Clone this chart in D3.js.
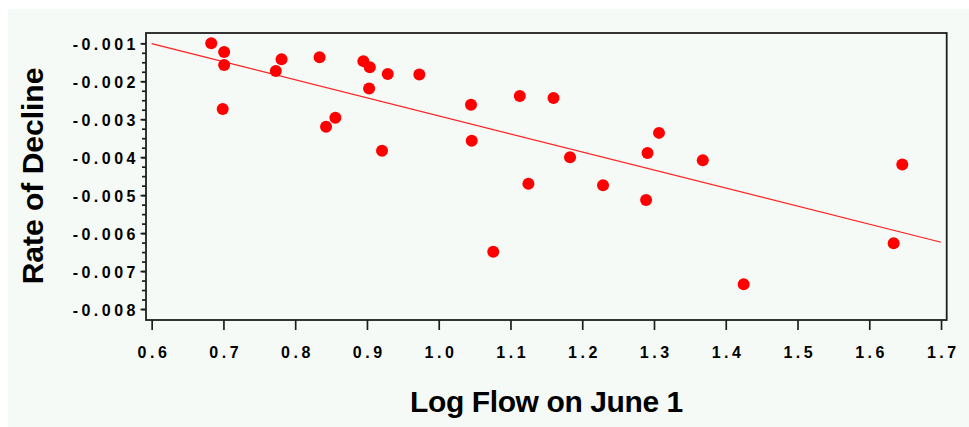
<!DOCTYPE html>
<html>
<head>
<meta charset="utf-8">
<script src="https://cdn.jsdelivr.net/npm/d3@7"></script>
<style>
  html, body { margin: 0; padding: 0; background: #ffffff; }
  svg { display: block; }
</style>
</head>
<body>
<svg id="chart" width="969" height="427"></svg>
<script>
// ---- data ----
const logFlow = [0.683, 0.701, 0.701, 0.699, 0.773, 0.781, 0.834, 0.843, 0.856, 0.895,
                 0.904, 0.903, 0.921, 0.929, 0.973, 1.045, 1.046, 1.076, 1.113, 1.125,
                 1.160, 1.183, 1.229, 1.289, 1.291, 1.307, 1.368, 1.425, 1.634, 1.646];
const rateOfDecline = [-0.00100, -0.00123, -0.00157, -0.00273, -0.00173, -0.00142, -0.00137, -0.00320, -0.00296, -0.00147,
                       -0.00163, -0.00219, -0.00383, -0.00181, -0.00182, -0.00262, -0.00357, -0.00649, -0.00239, -0.00470,
                       -0.00244, -0.00400, -0.00474, -0.00513, -0.00389, -0.00336, -0.00408, -0.00735, -0.00627, -0.00419];
const fitX = [0.6, 1.7];
const fitY = [-0.00101, -0.00624];
const xTicks = [0.6, 0.7, 0.8, 0.9, 1.0, 1.1, 1.2, 1.3, 1.4, 1.5, 1.6, 1.7];
const xTickLabels = ["0.6", "0.7", "0.8", "0.9", "1.0", "1.1", "1.2", "1.3", "1.4", "1.5", "1.6", "1.7"];
const yTicks = [-0.001, -0.002, -0.003, -0.004, -0.005, -0.006, -0.007, -0.008];
const yTickLabels = ["-0.001", "-0.002", "-0.003", "-0.004", "-0.005", "-0.006", "-0.007", "-0.008"];
const yMinorTicks = d3.range(0, 29).map(i => -0.008 + i * 0.00025);
const xTitle = "Log Flow on June 1";
const yTitle = "Rate of Decline";

// ---- layout ----
const plot = { left: 146, right: 946.7, top: 33, bottom: 320 };
const FONT = "'Liberation Sans', Arial, Helvetica, sans-serif";
const LS = 3.5; // tick-label letter spacing

const svg = d3.select("#chart");

svg.append("rect")
  .attr("x", 8).attr("y", 9).attr("width", 961).attr("height", 418)
  .attr("fill", "#f6faf6");

const x = d3.scaleLinear().domain([0.5921, 1.7079]).range([plot.left, plot.right]);
const y = d3.scaleLinear().domain([-0.008289, -0.000729]).range([plot.bottom, plot.top]);

// frame
svg.append("rect")
  .attr("x", plot.left).attr("y", plot.top)
  .attr("width", plot.right - plot.left).attr("height", plot.bottom - plot.top)
  .attr("fill", "none").attr("stroke", "#1e1e1e").attr("stroke-width", 1.8);

// y minor ticks
const yMinorAxis = d3.axisLeft(y).tickValues(yMinorTicks).tickSize(4).tickFormat("");
const gyMinor = svg.append("g").attr("transform", `translate(${plot.left},0)`).call(yMinorAxis);
gyMinor.select(".domain").remove();
gyMinor.selectAll("line").attr("stroke", "#1e1e1e").attr("stroke-width", 1.7);

// y major ticks + labels
const yAxis = d3.axisLeft(y).tickValues(yTicks).tickSize(5.5).tickPadding(5)
  .tickFormat((d, i) => yTickLabels[i]);
const gy = svg.append("g").attr("transform", `translate(${plot.left},0)`).call(yAxis);
gy.select(".domain").remove();
gy.selectAll("line").attr("stroke", "#1e1e1e").attr("stroke-width", 1.7);
gy.selectAll("text")
  .attr("font-family", FONT).attr("font-weight", "bold").attr("font-size", 16)
  .attr("letter-spacing", LS).attr("fill", "#000")
  .attr("dx", LS).attr("dy", "0.38em");

// x ticks + labels
const xAxis = d3.axisBottom(x).tickValues(xTicks).tickSize(10).tickPadding(17)
  .tickFormat((d, i) => xTickLabels[i]);
const gx = svg.append("g").attr("transform", `translate(0,${plot.bottom})`).call(xAxis);
gx.select(".domain").remove();
gx.selectAll("line").attr("stroke", "#1e1e1e").attr("stroke-width", 1.7);
gx.selectAll("text")
  .attr("font-family", FONT).attr("font-weight", "bold").attr("font-size", 16)
  .attr("letter-spacing", LS).attr("fill", "#000")
  .attr("dx", LS / 2);

// regression line
const line = d3.line().x(d => x(d[0])).y(d => y(d[1]));
svg.append("path")
  .datum(fitX.map((v, i) => [v, fitY[i]]))
  .attr("d", line)
  .attr("fill", "none").attr("stroke", "#ff2020").attr("stroke-width", 1.2);

// points
svg.append("g").selectAll("circle")
  .data(logFlow.map((v, i) => [v, rateOfDecline[i]]))
  .join("circle")
  .attr("cx", d => x(d[0])).attr("cy", d => y(d[1]))
  .attr("r", 6).attr("fill", "#ff0000");

// titles
svg.append("text")
  .attr("x", 546.5).attr("y", 411.7)
  .attr("text-anchor", "middle")
  .attr("font-family", FONT).attr("font-weight", "bold").attr("font-size", 30)
  .attr("letter-spacing", -0.4).attr("fill", "#000")
  .text(xTitle);

svg.append("text")
  .attr("transform", "translate(43.3,176) rotate(-90)")
  .attr("text-anchor", "middle")
  .attr("font-family", FONT).attr("font-weight", "bold").attr("font-size", 30)
  .attr("fill", "#000")
  .text(yTitle);
</script>
</body>
</html>
